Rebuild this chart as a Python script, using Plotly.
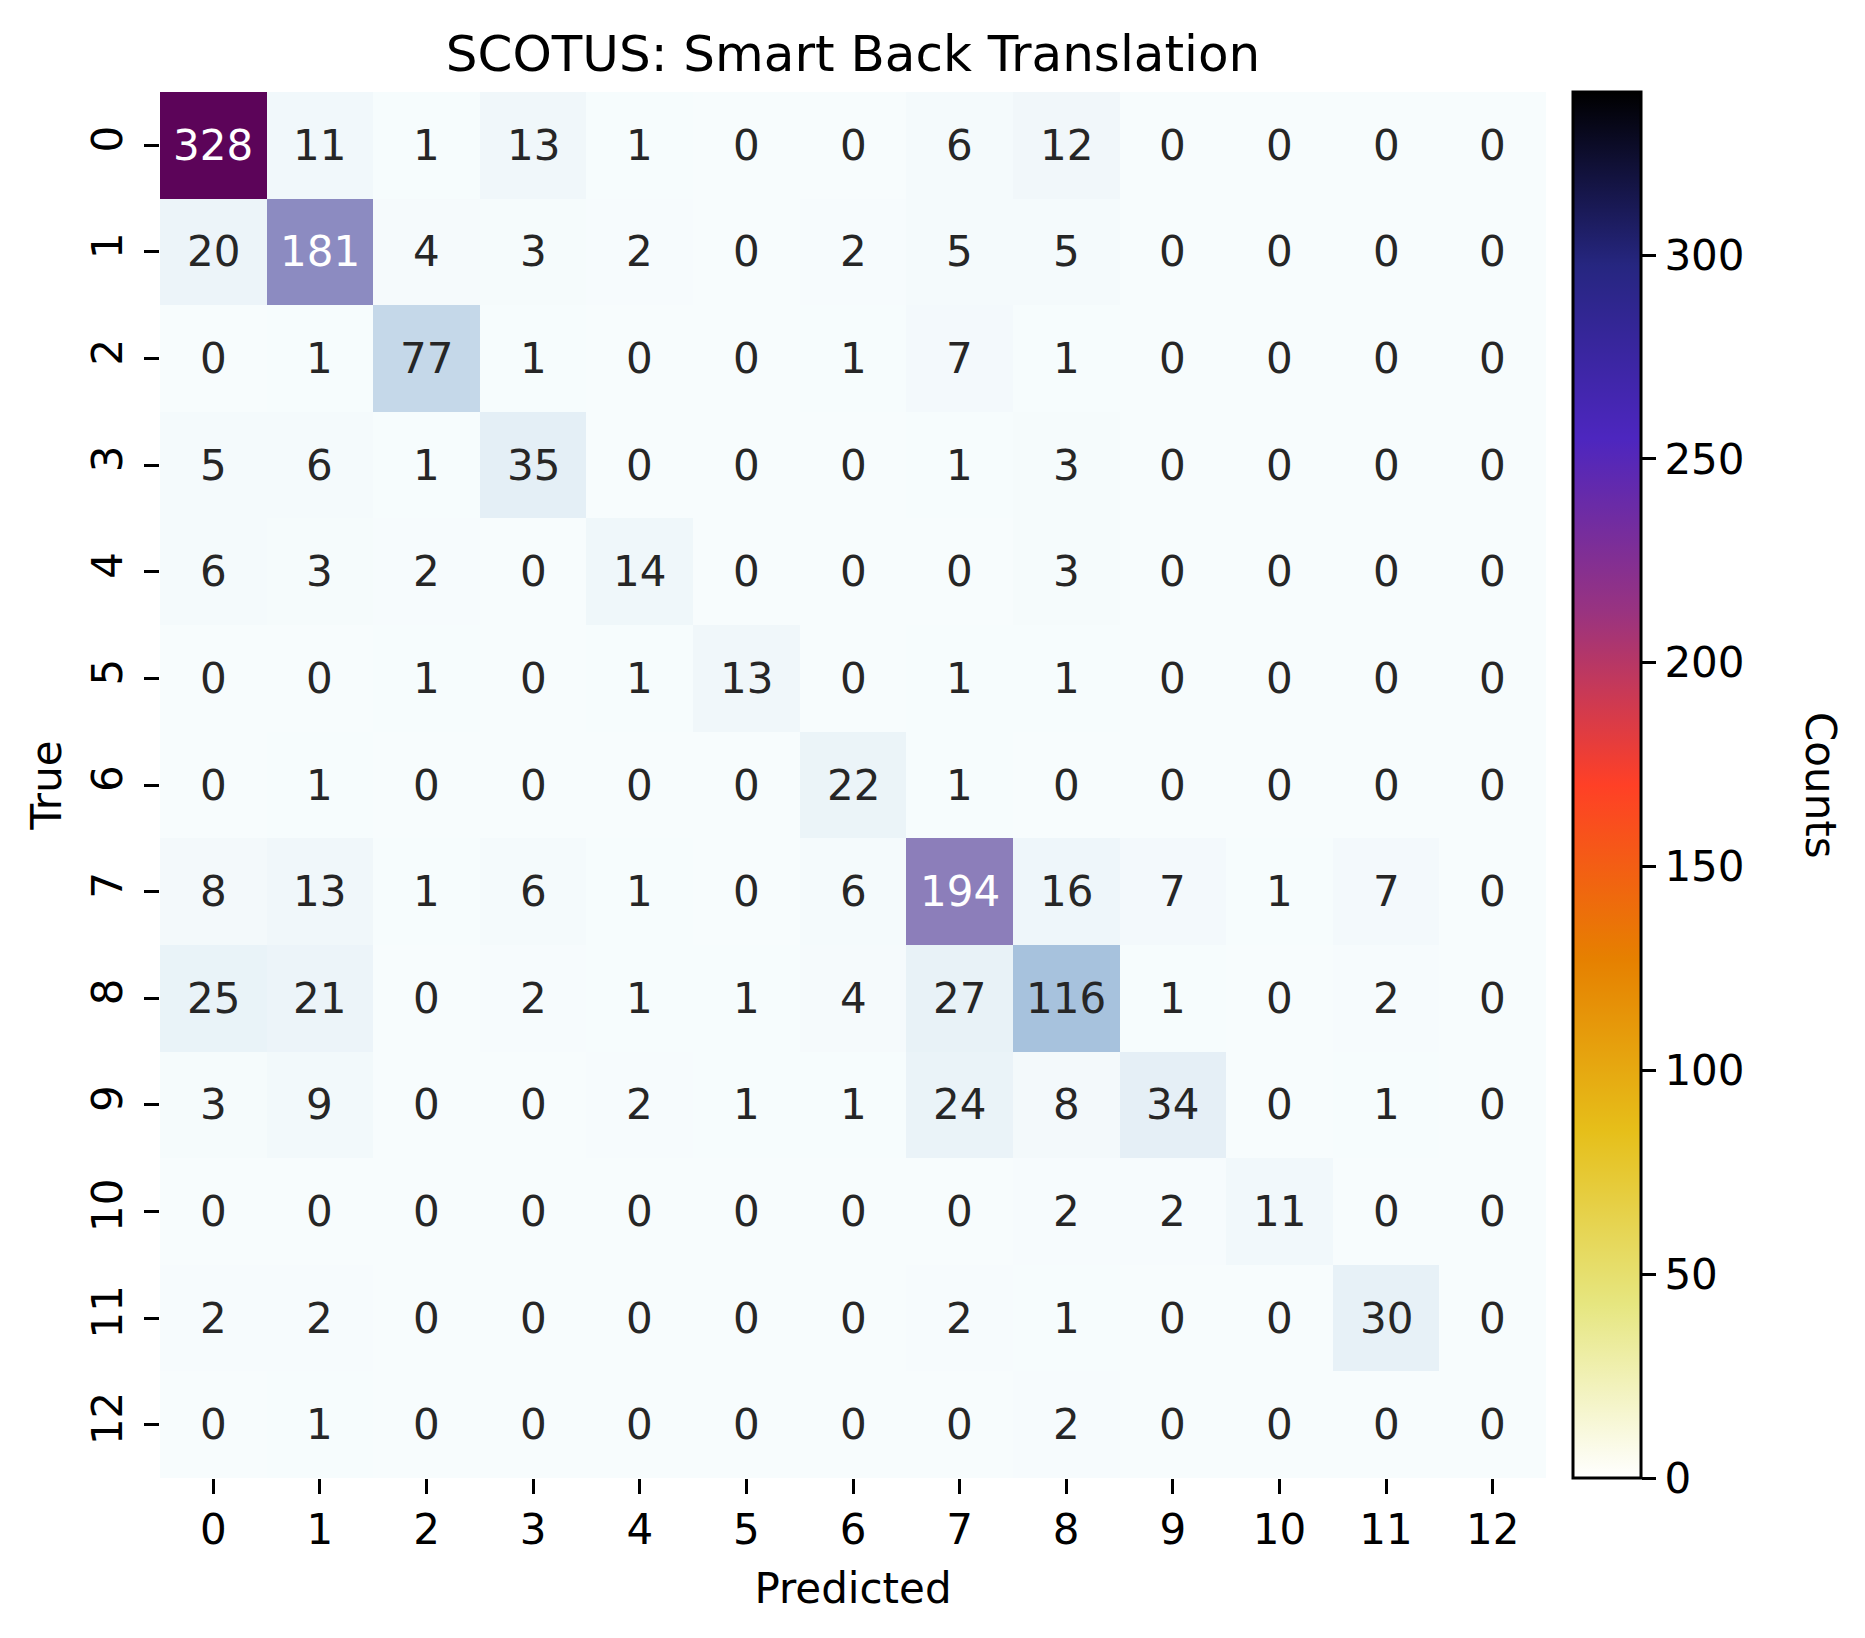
import plotly.graph_objects as go

# confusion matrix, rows = true class, cols = predicted class
labels = list(range(13))
counts = [
    [328, 11, 1, 13, 1, 0, 0, 6, 12, 0, 0, 0, 0],
    [20, 181, 4, 3, 2, 0, 2, 5, 5, 0, 0, 0, 0],
    [0, 1, 77, 1, 0, 0, 1, 7, 1, 0, 0, 0, 0],
    [5, 6, 1, 35, 0, 0, 0, 1, 3, 0, 0, 0, 0],
    [6, 3, 2, 0, 14, 0, 0, 0, 3, 0, 0, 0, 0],
    [0, 0, 1, 0, 1, 13, 0, 1, 1, 0, 0, 0, 0],
    [0, 1, 0, 0, 0, 0, 22, 1, 0, 0, 0, 0, 0],
    [8, 13, 1, 6, 1, 0, 6, 194, 16, 7, 1, 7, 0],
    [25, 21, 0, 2, 1, 1, 4, 27, 116, 1, 0, 2, 0],
    [3, 9, 0, 0, 2, 1, 1, 24, 8, 34, 0, 1, 0],
    [0, 0, 0, 0, 0, 0, 0, 0, 2, 2, 11, 0, 0],
    [2, 2, 0, 0, 0, 0, 0, 2, 1, 0, 0, 30, 0],
    [0, 1, 0, 0, 0, 0, 0, 0, 2, 0, 0, 0, 0],
]
cbar_ticks = [0, 50, 100, 150, 200, 250, 300]
cbar_max = 340

FONT = "DejaVu Sans"

# CMRmap reversed, used only for the colour bar
cmr_r = [
    [0.0, "rgb(255,255,255)"],
    [0.125, "rgb(230,230,128)"],
    [0.25, "rgb(230,191,26)"],
    [0.375, "rgb(230,128,0)"],
    [0.5, "rgb(255,64,38)"],
    [0.625, "rgb(153,51,128)"],
    [0.75, "rgb(77,38,191)"],
    [0.875, "rgb(38,38,128)"],
    [1.0, "rgb(0,0,0)"],
]

zmax = cbar_max

fig = go.Figure()
fig.add_trace(go.Heatmap(
    z=counts, x=labels, y=labels,
    colorscale="BuPu", zmin=0, zmax=zmax,
    showscale=False, hoverinfo="x+y+z",
))

# dummy trace that only carries the colour bar
fig.add_trace(go.Scatter(
    x=[None], y=[None], mode="markers", showlegend=False,
    marker=dict(
        color=[0], cmin=0, cmax=cbar_max, colorscale=cmr_r, showscale=True,
        colorbar=dict(
            x=1.0195, xanchor="left", xpad=0,
            y=0.5, yanchor="middle", len=1, lenmode="fraction", ypad=0,
            thickness=68, outlinewidth=3, outlinecolor="black",
            tickvals=cbar_ticks, ticks="outside", ticklen=14, tickwidth=3,
            tickcolor="black", tickfont=dict(family=FONT, size=42, color="black"),
        ),
    ),
))

annots = []
for i, row in enumerate(counts):
    for j, v in enumerate(row):
        annots.append(dict(
            x=labels[j], y=labels[i], text=str(v), showarrow=False,
            font=dict(family=FONT, size=42,
                      color="white" if v > 0.45 * zmax else "#262626"),
        ))

annots.append(dict(
    x=1.0, xref="paper", xanchor="center", xshift=275,
    y=0.5, yref="paper", yanchor="middle",
    text="Counts", textangle=90, showarrow=False,
    font=dict(family=FONT, size=42, color="black"),
))

# page body has an 8px margin, so the figure is 16px smaller than the window
fig.update_layout(
    width=1849, height=1622,
    margin=dict(l=152, r=311, t=84, b=152),
    paper_bgcolor="white", plot_bgcolor="white",
    title=dict(text="SCOTUS: Smart Back Translation", x=0.5, xref="paper",
               xanchor="center", y=1, yref="paper", yanchor="bottom",
               pad=dict(b=21),
               font=dict(family=FONT, size=50, color="black")),
    annotations=annots,
    font=dict(family=FONT, color="black"),
)
fig.update_xaxes(
    range=[-0.5, 12.5], tickvals=labels, ticks="outside", ticklen=15,
    tickwidth=3, tickcolor="black", showgrid=False, zeroline=False,
    showline=False, tickfont=dict(family=FONT, size=42, color="black"),
    title=dict(text="Predicted", standoff=20,
               font=dict(family=FONT, size=42, color="black")),
)
fig.update_yaxes(
    range=[12.5, -0.5], tickvals=labels, ticks="outside", ticklen=15,
    tickwidth=3, tickcolor="black", tickangle=-90, showgrid=False,
    zeroline=False, showline=False, ticklabelstandoff=5,
    tickfont=dict(family=FONT, size=42, color="black"),
    title=dict(text="True", standoff=8,
               font=dict(family=FONT, size=42, color="black")),
)

fig.write_html("out.html")
